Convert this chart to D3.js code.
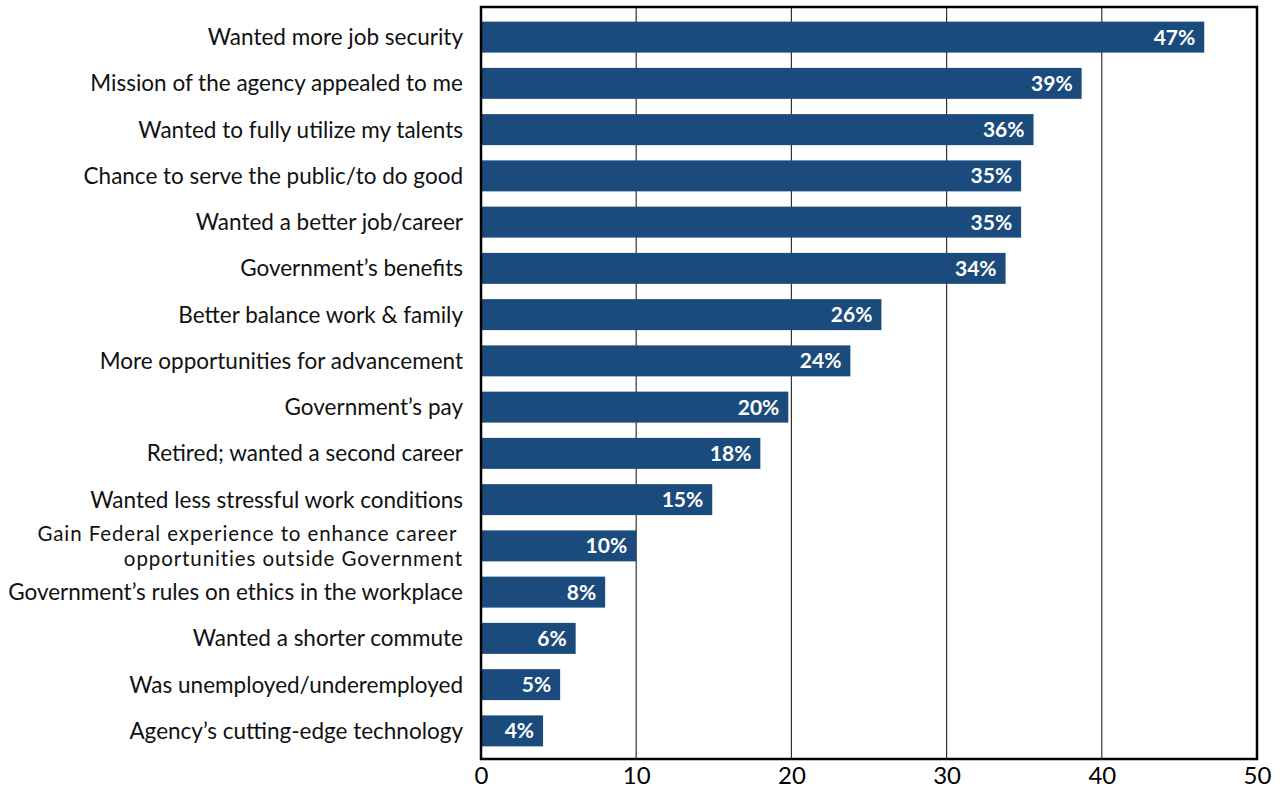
<!DOCTYPE html>
<html>
<head>
<meta charset="utf-8">
<script src="https://cdn.jsdelivr.net/npm/d3@7"></script>
<style>
  html, body { margin: 0; padding: 0; background: #fff; }
  svg { display: block; }
  .cat { font-family: "Lato", "Open Sans", sans-serif; font-size: 22.5px; fill: #111; }
  .cat.multi { font-size: 20.5px; letter-spacing: 0.9px; }
  .val { font-family: "Lato", "Open Sans", sans-serif; font-size: 21px; font-weight: 700; fill: #fff; }
  .tick text { font-family: "Lato", "Open Sans", sans-serif; font-size: 24px; fill: #000; }
</style>
</head>
<body>
<svg id="chart" width="1282" height="789"></svg>
<script>
// Reasons for joining, share of respondents (%)
const categories = [
  "Wanted more job security",
  "Mission of the agency appealed to me",
  "Wanted to fully utilize my talents",
  "Chance to serve the public/to do good",
  "Wanted a better job/career",
  "Government\u2019s benefits",
  "Better balance work & family",
  "More opportunities for advancement",
  "Government\u2019s pay",
  "Retired; wanted a second career",
  "Wanted less stressful work conditions",
  "Gain Federal experience to enhance career \nopportunities outside Government",
  "Government\u2019s rules on ethics in the workplace",
  "Wanted a shorter commute",
  "Was unemployed/underemployed",
  "Agency\u2019s cutting-edge technology"
];
const values = [46.6, 38.7, 35.6, 34.8, 34.8, 33.8, 25.8, 23.8, 19.8, 18.0, 14.9, 10.0, 8.0, 6.1, 5.1, 4.0];
const xTicks = [0, 10, 20, 30, 40, 50];

const svg = d3.select("#chart");
const frame = { left: 481, right: 1257, top: 7, bottom: 759 };

const x = d3.scaleLinear().domain([0, 50]).range([frame.left, frame.right]);
const y = d3.scaleBand().domain(categories).range([14, 754]).paddingInner(0.33).paddingOuter(0.165);

// vertical grid lines
svg.append("g").selectAll("line")
  .data(xTicks.slice(1, -1))
  .join("line")
  .attr("x1", d => x(d)).attr("x2", d => x(d))
  .attr("y1", frame.top).attr("y2", frame.bottom)
  .attr("stroke", "#333").attr("stroke-width", 1.2);

// bars
svg.append("g").selectAll("rect")
  .data(values)
  .join("rect")
  .attr("x", x(0))
  .attr("y", (d, i) => y(categories[i]))
  .attr("width", d => x(d) - x(0))
  .attr("height", y.bandwidth())
  .attr("fill", "#1a4b7c");

// value labels inside bar ends
svg.append("g").selectAll("text")
  .data(values)
  .join("text")
  .attr("class", "val")
  .attr("x", d => x(d) - 9)
  .attr("y", (d, i) => y(categories[i]) + y.bandwidth() / 2)
  .attr("dy", "0.36em")
  .attr("text-anchor", "end")
  .text(d => Math.round(d) + "%");

// category labels (right-aligned, multi-line where needed)
const catG = svg.append("g");
categories.forEach((c, i) => {
  const lines = c.split("\n");
  const cy = y(c) + y.bandwidth() / 2;
  const t = catG.append("text")
    .attr("class", lines.length > 1 ? "cat multi" : "cat")
    .attr("text-anchor", "end");
  lines.forEach((ln, j) => {
    t.append("tspan")
      .attr("x", 463)
      .attr("y", cy + (j - (lines.length - 1) / 2) * 24.5)
      .attr("dy", "0.36em")
      .text(ln);
  });
});

// frame
svg.append("rect")
  .attr("x", frame.left).attr("y", frame.top)
  .attr("width", frame.right - frame.left)
  .attr("height", frame.bottom - frame.top)
  .attr("fill", "none").attr("stroke", "#000").attr("stroke-width", 2.5);

// x axis
const xAxis = d3.axisBottom(x).tickValues(xTicks).tickSize(0).tickPadding(8);
svg.append("g")
  .attr("transform", `translate(0,${frame.bottom})`)
  .call(xAxis)
  .call(g => g.select(".domain").remove());
</script>
</body>
</html>
